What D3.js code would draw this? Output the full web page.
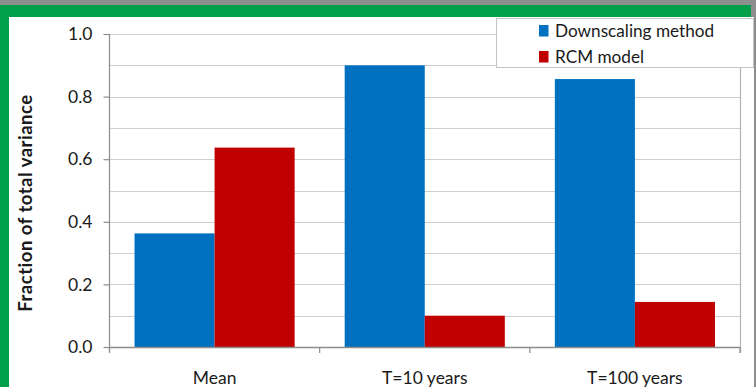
<!DOCTYPE html>
<html>
<head>
<meta charset="utf-8">
<script src="https://cdn.jsdelivr.net/npm/d3@7"></script>
<style>
  html, body { margin: 0; padding: 0; background: #8e8e8e; }
  svg { display: block; }
  text { font-family: Lato, "Open Sans", "Liberation Sans", sans-serif; fill: #1a1a1a; }
</style>
</head>
<body>
<svg id="chart" width="756" height="387"></svg>
<script>
// Variance decomposition: share explained by each source
const categories = ["Mean", "T=10 years", "T=100 years"];
const seriesNames = ["Downscaling method", "RCM model"];
const downscaling = [0.363, 0.900, 0.856];
const rcm = [0.637, 0.100, 0.144];
const yTicks = [0.0, 0.2, 0.4, 0.6, 0.8, 1.0];
const yGrid = [0.1, 0.2, 0.3, 0.4, 0.5, 0.6, 0.7, 0.8, 0.9, 1.0];
const colors = ["#0070c0", "#c00000"];

const svg = d3.select("#chart");
const W = 756, H = 387;

// Frame: green border on the left and top, white chart area
svg.append("rect").attr("x", 0).attr("y", 5).attr("width", 751).attr("height", H - 5).attr("fill", "#00a04b");
svg.append("rect").attr("x", 9).attr("y", 17).attr("width", 745).attr("height", H - 17).attr("fill", "#ffffff");

const plot = { left: 109.5, right: 740, top: 34, bottom: 347 };

const x = d3.scaleBand().domain(categories).range([plot.left, plot.right]).paddingInner(0).paddingOuter(0);
const xs = d3.scaleBand().domain(seriesNames).range([0, x.bandwidth()]).paddingInner(0).paddingOuter(0.3125);
const y = d3.scaleLinear().domain([0, 1]).range([plot.bottom, plot.top]);

// Horizontal gridlines every 0.1
svg.append("g").selectAll("line").data(yGrid).join("line")
  .attr("x1", plot.left).attr("x2", plot.right)
  .attr("y1", d => Math.round(y(d)) + 0.5).attr("y2", d => Math.round(y(d)) + 0.5)
  .attr("stroke", "#cfcfcf").attr("stroke-width", 1.2);

// Right border of the plot area
svg.append("line")
  .attr("x1", plot.right + 0.5).attr("x2", plot.right + 0.5)
  .attr("y1", plot.top).attr("y2", plot.bottom + 6)
  .attr("stroke", "#b4b4b4").attr("stroke-width", 1.2);

// Bars
const rows = categories.map((c, i) => ({ cat: c, vals: [downscaling[i], rcm[i]] }));
const groups = svg.append("g").selectAll("g").data(rows).join("g")
  .attr("transform", d => `translate(${x(d.cat)},0)`);
groups.selectAll("rect").data(d => d.vals.map((v, k) => ({ key: seriesNames[k], v, k }))).join("rect")
  .attr("x", d => xs(d.key))
  .attr("width", xs.bandwidth())
  .attr("y", d => y(d.v))
  .attr("height", d => y(0) - y(d.v))
  .attr("fill", d => colors[d.k]);

// Y axis
const yAxis = d3.axisLeft(y).tickValues(yTicks).tickFormat(d3.format(".1f")).tickSize(6).tickPadding(11);
const gy = svg.append("g").attr("transform", `translate(${plot.left},0)`).call(yAxis);
gy.select(".domain").attr("stroke", "#8c8c8c").attr("stroke-width", 1.2).attr("d", `M0,${plot.top}V${plot.bottom + 5}`);
gy.selectAll(".tick line").attr("stroke", "#8c8c8c").attr("stroke-width", 1.2);
gy.selectAll(".tick text").attr("font-size", 17.5).attr("fill", "#1a1a1a")
  .style("font-family", "Lato, 'Open Sans', sans-serif");

// X axis with ticks at category boundaries
const gx = svg.append("g").attr("transform", `translate(0,${plot.bottom})`);
gx.append("line").attr("x1", plot.left).attr("x2", plot.right).attr("y1", 0.5).attr("y2", 0.5)
  .attr("stroke", "#8c8c8c").attr("stroke-width", 1.4);
const bounds = categories.map(c => x(c)).concat([x(categories[categories.length - 1]) + x.bandwidth()]);
gx.selectAll(".bt").data(bounds).join("line").attr("class", "bt")
  .attr("x1", d => d).attr("x2", d => d).attr("y1", 0).attr("y2", 6)
  .attr("stroke", "#8c8c8c").attr("stroke-width", 1.2);
gx.selectAll(".cl").data(categories).join("text").attr("class", "cl")
  .attr("x", d => x(d) + x.bandwidth() / 2).attr("y", 37)
  .attr("text-anchor", "middle").attr("font-size", 17.5).text(d => d);

// Y axis title
svg.append("text")
  .attr("transform", `translate(32,203) rotate(-90)`)
  .attr("text-anchor", "middle").attr("font-size", 18.5).attr("font-weight", "bold")
  .attr("letter-spacing", 0.5)
  .text("Fraction of total variance");

// Legend
const lg = svg.append("g");
lg.append("rect").attr("x", 496.5).attr("y", 18.5).attr("width", 257).attr("height", 49)
  .attr("fill", "#ffffff").attr("stroke", "#c4c4c4").attr("stroke-width", 1);
seriesNames.forEach((n, i) => {
  lg.append("rect").attr("x", 539).attr("y", 25 + i * 26).attr("width", 9.5).attr("height", 11.5).attr("fill", colors[i]);
  lg.append("text").attr("x", 555).attr("y", 36.5 + i * 26).attr("font-size", 17.2).text(n);
});
</script>
</body>
</html>
